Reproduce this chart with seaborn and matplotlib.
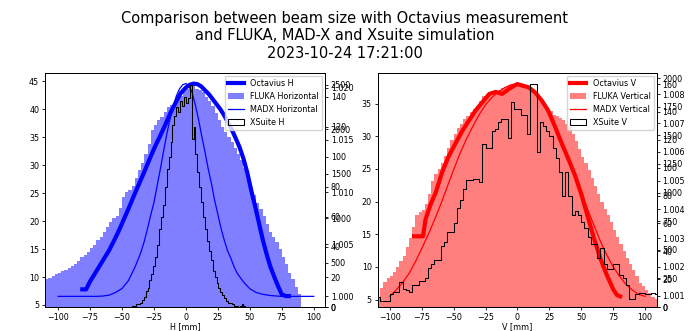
import numpy as np
import matplotlib
matplotlib.use("Agg")
import matplotlib.pyplot as plt
from matplotlib.ticker import MultipleLocator
import seaborn as sns

# ---------------- data ----------------
title = ("Comparison between beam size with Octavius measurement\n"
         "and FLUKA, MAD-X and Xsuite simulation\n"
         "2023-10-24 17:21:00")

# Octavius measurement (main axis)
oct_h_x = [-81, -78, -75, -72, -68, -64, -60, -56, -52, -48, -44, -40, -36, -32, -28, -24,
           -20, -16, -12, -8, -4, 0, 3, 6, 9, 12, 15, 18, 21, 24, 27, 30, 33, 36, 39, 42,
           45, 48, 51, 54, 57, 60, 63, 66, 69, 72, 75, 78, 80.5]
oct_h_y = [7.8, 7.8, 9.2, 10.3, 11.8, 13.3, 14.8, 16.6, 18.5, 20.6, 22.7, 24.9, 27.0, 29.1,
           31.3, 33.4, 35.3, 37.3, 39.4, 41.2, 42.9, 43.9, 44.4, 44.6, 44.5, 44.1, 43.4, 42.7,
           41.8, 40.9, 40.0, 38.9, 37.6, 36.3, 34.8, 33.2, 31.2, 28.7, 25.6, 22.8, 19.8, 16.8,
           14.2, 11.9, 10.1, 8.4, 6.9, 6.6, 6.6]

oct_v_x = [-81, -78, -74, -72, -68, -64, -59, -54, -48, -43, -38, -33, -28, -22, -17, -12,
           -7, -3, 0, 4, 9, 14, 19, 24, 29, 35, 40, 45, 50, 55, 60, 65, 70, 75, 78, 80.5]
oct_v_y = [14.7, 14.7, 14.7, 17.3, 19.6, 21.4, 24.5, 26.9, 29.1, 30.9, 32.4, 33.9, 35.1,
           36.5, 36.8, 36.5, 37.2, 37.7, 38.0, 37.75, 37.5, 36.7, 35.5, 34.0, 31.7, 28.8,
           26.5, 24.1, 21.2, 17.8, 14.4, 11.3, 8.8, 6.6, 5.7, 5.5]

# FLUKA histograms (bin counts)
fluka_h_start, fluka_h_width = -112.5, 2.5
fluka_h_counts = [300, 320, 330, 345, 375, 385, 400, 415, 440, 460,
                  480, 520, 560, 585, 620, 660, 700, 750, 790, 850,
                  900, 960, 1000, 1030, 1120, 1240, 1290, 1320, 1360, 1450,
                  1540, 1620, 1720, 1830, 1990, 2050, 2100, 2140, 2200, 2250,
                  2280, 2300, 2340, 2380, 2430, 2460, 2490, 2510, 2460, 2440,
                  2420, 2370, 2320, 2260, 2180, 2110, 2030, 1970, 1910, 1860,
                  1790, 1720, 1650, 1570, 1460, 1350, 1260, 1170, 1100, 1020,
                  930, 850, 790, 735, 650, 560, 480, 380, 310, 230,
                  150]

fluka_v_start, fluka_v_width = -110.0, 2.5
fluka_v_counts = [80, 170, 220, 250, 270, 310, 350, 400, 450, 520,
                  600, 700, 800, 830, 850, 900, 990, 1100, 1160, 1210,
                  1260, 1320, 1390, 1460, 1510, 1560, 1600, 1640, 1670, 1700,
                  1730, 1760, 1800, 1840, 1860, 1870, 1880, 1890, 1900, 1915,
                  1920, 1930, 1935, 1945, 1930, 1948, 1935, 1920, 1900, 1870,
                  1830, 1790, 1760, 1735, 1710, 1680, 1665, 1650, 1630, 1600,
                  1570, 1510, 1450, 1380, 1310, 1260, 1200, 1130, 1060, 990,
                  920, 860, 800, 740, 670, 610, 550, 490, 430, 380,
                  320, 270, 210, 180, 150, 120, 90, 70]

# MAD-X curves
madx_h_x = [-100, -95, -90, -85, -80, -75, -70, -65, -60, -55, -50, -45,
            -40, -37.5, -35, -32.5, -30, -27.5, -25, -22.5, -20, -17.5, -15, -12.5,
            -10, -7.5, -5, -2.5, 0, 2.5, 5, 7.5, 10, 12.5, 15, 17.5, 20, 22.5, 25,
            27.5, 30, 32.5, 35, 37.5, 40,
            45, 50, 55, 60, 65, 70, 75, 80, 85, 90, 95, 100]
madx_h_y = [1.0, 1.0, 1.0, 1.0, 1.0, 1.0, 1.0, 1.00003, 1.00012, 1.00037, 1.00075, 1.0015,
            1.00275, 1.0035, 1.0043, 1.0053, 1.0065, 1.0078, 1.0090, 1.0106, 1.0122, 1.0139,
            1.0155, 1.0170, 1.0182, 1.0192, 1.0199, 1.0203, 1.0204, 1.0202, 1.0195, 1.0183,
            1.0169, 1.0153, 1.0138, 1.0122, 1.0108, 1.0092, 1.00785, 1.0065, 1.0054, 1.0044,
            1.0037, 1.0029, 1.00224,
            1.00139, 1.00073, 1.00037, 1.0002, 1.0001, 1.00004, 1.0, 1.0, 1.0, 1.0, 1.0, 1.0]

madx_v_x = [-100, -95, -90, -85, -80, -75, -70, -65, -60, -55, -50, -45, -40, -35, -30,
            -25, -20, -15, -10, -5, 0, 5, 10, 15, 20, 25, 30, 35, 40, 45, 50, 55, 60, 65,
            70, 75, 80, 85, 90, 95, 100]
madx_v_y = [1.00097, 1.00119, 1.00145, 1.00176, 1.00217, 1.00263, 1.00311, 1.00363,
            1.00418, 1.00478, 1.00537, 1.00594, 1.00644, 1.00688, 1.00729, 1.00763,
            1.00789, 1.00808, 1.00823, 1.00833, 1.00837, 1.00834, 1.00822, 1.00800,
            1.00770, 1.00733, 1.00681, 1.00629, 1.00574, 1.00515, 1.00459, 1.00400,
            1.00344, 1.00289, 1.00241, 1.00200, 1.00167, 1.00139, 1.00119, 1.00104,
            1.00097]

# Xsuite histograms (bin counts)
xs_h_start, xs_h_width = -42.0, 1.5
xs_h_counts = [1, 1, 2, 2, 3, 5, 7, 11, 13, 18,
               22, 27, 33, 41, 52, 60, 68, 80, 92, 100,
               110, 121, 127, 133, 130, 137, 134, 140, 136, 139,
               148, 112, 120, 102, 90, 80, 70, 60, 52, 44,
               37, 31, 24, 20, 16, 13, 10, 8, 6, 4,
               3, 3, 2, 1, 1, 0, 1, 2, 1]

xs_v_start, xs_v_width = -110.0, 2.5
xs_v_counts = [7, 4, 4, 4, 9, 11, 11, 18, 13, 12,
               11, 16, 16, 19, 19, 21, 28, 31, 34, 34,
               44, 47, 54, 54, 60, 71, 77, 85, 91, 91,
               92, 92, 90, 117, 114, 114, 126, 128, 133, 135,
               135, 121, 147, 142, 142, 138, 138, 124, 160, 160,
               111, 133, 130, 126, 123, 114, 107, 97, 80, 97,
               80, 66, 69, 66, 61, 57, 50, 45, 45, 35,
               42, 31, 27, 27, 31, 31, 23, 21, 16, 6,
               6, 9, 10, 10, 9, 9, 10, 9]

# ---------------- style ----------------
plt.rcParams.update({
    "font.family": ["DejaVu Sans"],
    "font.size": 5.8,
    "axes.linewidth": 0.6,
    "xtick.major.size": 2.2, "ytick.major.size": 2.2,
    "xtick.major.width": 0.6, "ytick.major.width": 0.6,
    "xtick.major.pad": 2.0, "ytick.major.pad": 2.0,
    "legend.fontsize": 5.8,
})

fig = plt.figure(figsize=(6.89, 3.31), dpi=100)
axL = fig.add_axes([0.0653, 0.0725, 0.4064, 0.707])
axR = fig.add_axes([0.548, 0.0725, 0.405, 0.707])


def bins_from(start, width, counts):
    n = len(counts)
    edges = [float(start + width * i) for i in range(n + 1)]
    centers = [e + width / 2 for e in edges[:-1]]
    return centers, edges


def panel(ax, color, ox, oy, olab, fstart, fwidth, fcounts, flab,
          mx, my, mlab, xstart, xwidth, xcounts, xlab, xlabel, xlim, ylims, steps):
    ax2 = ax.twinx()
    ax3 = ax.twinx()
    ax4 = ax.twinx()
    sns.lineplot(x=ox, y=oy, ax=ax, color=color, linewidth=3.0, label=olab,
                 legend=False, sort=False)
    fc, fe = bins_from(fstart, fwidth, fcounts)
    sns.histplot(x=fc, weights=fcounts, bins=fe, element="step", fill=True,
                 color=color, alpha=0.5, edgecolor="none", linewidth=0,
                 ax=ax2, label=flab, legend=False)
    sns.lineplot(x=mx, y=my, ax=ax3, color=color, linewidth=0.9, label=mlab,
                 legend=False, sort=False)
    xc, xe = bins_from(xstart, xwidth, xcounts)
    sns.histplot(x=xc, weights=xcounts, bins=xe, element="step", fill=True,
                 color="black", facecolor="none", edgecolor="black", linewidth=0.75,
                 ax=ax4, label=xlab, legend=False)
    for a, yl, st in zip((ax, ax2, ax3, ax4), ylims, steps):
        a.set_ylim(*yl)
        a.yaxis.set_major_locator(MultipleLocator(st))
        a.set_ylabel("")
    ax.set_xlim(*xlim)
    ax.xaxis.set_major_locator(MultipleLocator(25))
    ax.set_xlabel(xlabel, labelpad=0.5)
    handles, labels = [], []
    for a in (ax, ax2, ax3, ax4):
        h, l = a.get_legend_handles_labels()
        handles += h
        labels += l
    ax4.legend(handles, labels, loc="upper right", borderaxespad=0.35)


panel(axL, "blue", oct_h_x, oct_h_y, "Octavius H",
      fluka_h_start, fluka_h_width, fluka_h_counts, "FLUKA Horizontal",
      madx_h_x, madx_h_y, "MADX Horizontal",
      xs_h_start, xs_h_width, xs_h_counts, "XSuite H",
      "H [mm]", (-110.2, 108.8),
      [(4.64, 46.5), (0, 2635), (0.99898, 1.02142), (0, 156)],
      [5, 500, 0.005, 20])

panel(axR, "red", oct_v_x, oct_v_y, "Octavius V",
      fluka_v_start, fluka_v_width, fluka_v_counts, "FLUKA Vertical",
      madx_v_x, madx_v_y, "MADX Vertical",
      xs_v_start, xs_v_width, xs_v_counts, "XSuite V",
      "V [mm]", (-109.6, 109.1),
      [(3.87, 39.7), (0, 2045), (1.0006, 1.00874), (0, 168)],
      [5, 250, 0.001, 20])

fig.suptitle(title, fontsize=10.5, y=0.968, linespacing=1.22)

fig.savefig("out.png", dpi=100)
